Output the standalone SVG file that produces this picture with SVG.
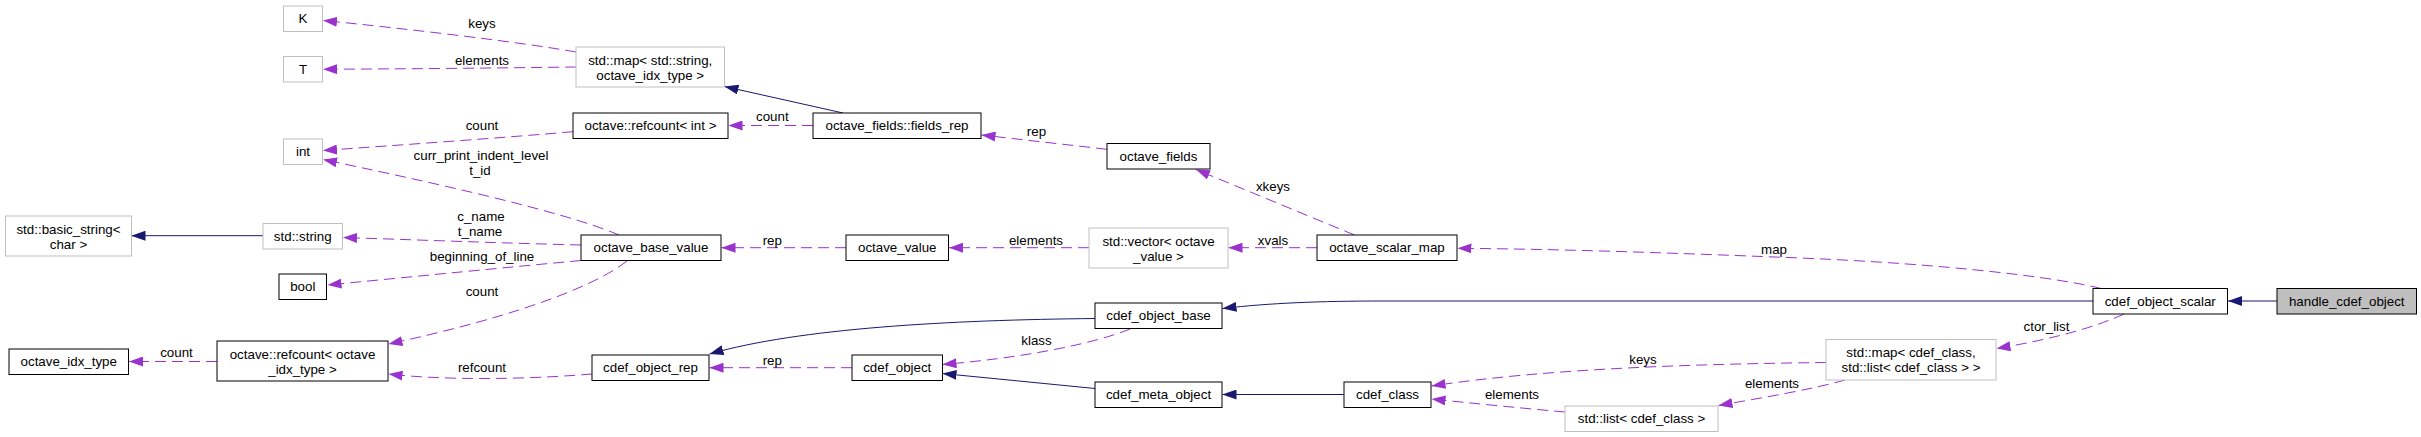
<svg xmlns="http://www.w3.org/2000/svg" width="2421" height="437" viewBox="0 0 2421 437">
<style>
text{font-family:"Liberation Sans",Arial,sans-serif;font-size:13.33px;fill:#000;text-anchor:middle}
.n rect{fill:#fff;stroke:#000;stroke-width:1}
.n.g rect{stroke:#bfbfbf}
.n.h rect{fill:#bfbfbf}
.e{fill:none;stroke:#9a32cd;stroke-width:1;stroke-dasharray:11,6;marker-end:url(#ap)}
.i{fill:none;stroke:#191970;stroke-width:1;marker-end:url(#ab)}
</style>
<defs>
<marker id="ap" markerUnits="userSpaceOnUse" markerWidth="14" markerHeight="10" refX="14" refY="5" orient="auto" viewBox="0 0 14 10"><path d="M0,0L14,5L0,10z" fill="#9a32cd"/></marker>
<marker id="ab" markerUnits="userSpaceOnUse" markerWidth="14" markerHeight="10" refX="14" refY="5" orient="auto" viewBox="0 0 14 10"><path d="M0,0L14,5L0,10z" fill="#191970"/></marker>
</defs>
<rect width="2421" height="437" fill="#fff"/>
<g id="connectors">
<path class="e" d="M576,52 C520,42 400,28 323,20.5"/>
<path class="e" d="M576,67 C500,68 400,69 323,69.2"/>
<path class="e" d="M573,131.7 C500,138 400,145 323,150.5"/>
<path class="e" d="M619,235 C560,210 420,180 323,159.5"/>
<path class="e" d="M581,245 C500,243 420,240 343,237.5"/>
<path class="e" d="M581,260.5 C500,268 420,276 327.5,285"/>
<path class="e" d="M627,261 C590,290 500,320 388.5,344"/>
<path class="e" d="M592,374 C520,380 440,380 388.5,374"/>
<path class="e" d="M217,361.5 L129,361.5"/>
<path class="i" d="M263,235.7 L131.5,235.7"/>
<path class="i" d="M843,113 L724.5,86.5"/>
<path class="e" d="M813,125.5 L728.5,125.5"/>
<path class="e" d="M1107,149.3 L981.5,135"/>
<path class="e" d="M1354.5,235 L1196,169.5"/>
<path class="e" d="M1317,247.7 L1228.5,247.7"/>
<path class="e" d="M1089,247.7 L949,247.7"/>
<path class="e" d="M846,247.7 L721.5,247.7"/>
<path class="e" d="M2101,288.5 C2060,278 1950,264 1800,258 C1650,252 1550,249 1457.5,248.3"/>
<path class="i" d="M2093,301 L1383,301 C1320,301 1270,303 1222.5,308.5"/>
<path class="i" d="M2277,301 L2228,301"/>
<path class="e" d="M2124,314 C2100,325 2060,338 1996.5,348.5"/>
<path class="e" d="M1826,362.5 C1700,364 1550,368 1431.5,386"/>
<path class="e" d="M1845,380 C1810,390 1760,398 1718.5,405.5"/>
<path class="e" d="M1565,412 C1520,408 1470,403 1431.5,399"/>
<path class="i" d="M1344,394.5 L1222.5,394.5"/>
<path class="i" d="M1095,388.5 L942.5,373.5"/>
<path class="e" d="M852,367.7 L709.5,367.7"/>
<path class="i" d="M1095,318.5 C950,320 800,328 709.5,354"/>
<path class="e" d="M1130,329 C1090,345 1020,358 942.5,364.5"/>
<text x="482" y="27.5">keys</text>
<text x="482" y="64.5">elements</text>
<text x="482" y="129.5">count</text>
<text x="481" y="160.3">curr_print_indent_level</text>
<text x="480" y="175.3">t_id</text>
<text x="481" y="221.3">c_name</text>
<text x="480" y="236.3">t_name</text>
<text x="482" y="261.3">beginning_of_line</text>
<text x="482" y="296.3">count</text>
<text x="482" y="372.3">refcount</text>
<text x="176.5" y="357.3">count</text>
<text x="772.3" y="121.3">count</text>
<text x="1036.5" y="136.3">rep</text>
<text x="1273" y="191.3">xkeys</text>
<text x="1273" y="244.6">xvals</text>
<text x="1036" y="244.6">elements</text>
<text x="772.3" y="244.6">rep</text>
<text x="1774" y="253.6">map</text>
<text x="2046.5" y="331.3">ctor_list</text>
<text x="1643" y="363.6">keys</text>
<text x="1772" y="388">elements</text>
<text x="1512" y="399">elements</text>
<text x="772.3" y="364.6">rep</text>
<text x="1036.5" y="345.3">klass</text>
</g>
<g id="n_K" class="n g"><rect x="283.5" y="6" width="39" height="25.5"/><text x="303" y="23.4">K</text></g>
<g id="n_T" class="n g"><rect x="283.5" y="56.5" width="39" height="25.5"/><text x="303" y="73.9">T</text></g>
<g id="n_int" class="n g"><rect x="283.5" y="139" width="39" height="25.5"/><text x="303" y="156.4">int</text></g>
<g id="n_basic_string" class="n g"><rect x="5.5" y="216" width="126" height="40"/><text x="68.5" y="233.5">std::basic_string&lt;</text><text x="68.5" y="248.5">char &gt;</text></g>
<g id="n_string" class="n g"><rect x="263" y="223.5" width="79.5" height="25.5"/><text x="302.75" y="240.9">std::string</text></g>
<g id="n_bool" class="n"><rect x="279" y="274" width="47.5" height="25.5"/><text x="302.75" y="291.4">bool</text></g>
<g id="n_octave_idx_type" class="n"><rect x="9" y="349" width="119.5" height="25.5"/><text x="68.75" y="366.4">octave_idx_type</text></g>
<g id="n_refcount_idx" class="n"><rect x="217" y="341" width="171" height="40"/><text x="302.5" y="358.5">octave::refcount&lt; octave</text><text x="302.5" y="373.5">_idx_type &gt;</text></g>
<g id="n_map_string" class="n g"><rect x="576" y="47" width="148.5" height="40"/><text x="650.25" y="64.5">std::map&lt; std::string,</text><text x="650.25" y="79.5">octave_idx_type &gt;</text></g>
<g id="n_refcount_int" class="n"><rect x="573" y="113" width="155" height="25.5"/><text x="650.5" y="130.4">octave::refcount&lt; int &gt;</text></g>
<g id="n_octave_base_value" class="n"><rect x="581" y="235" width="140" height="25.5"/><text x="651" y="252.4">octave_base_value</text></g>
<g id="n_cdef_object_rep" class="n"><rect x="592" y="355" width="117" height="25.5"/><text x="650.5" y="372.4">cdef_object_rep</text></g>
<g id="n_fields_rep" class="n"><rect x="813" y="113" width="168" height="25.5"/><text x="897" y="130.4">octave_fields::fields_rep</text></g>
<g id="n_octave_value" class="n"><rect x="846" y="235" width="102.5" height="25.5"/><text x="897.25" y="252.4">octave_value</text></g>
<g id="n_cdef_object" class="n"><rect x="852" y="355" width="90.5" height="25.5"/><text x="897.25" y="372.4">cdef_object</text></g>
<g id="n_octave_fields" class="n"><rect x="1107" y="143.5" width="103" height="25.5"/><text x="1158.5" y="160.9">octave_fields</text></g>
<g id="n_vector" class="n g"><rect x="1089" y="228" width="139" height="40"/><text x="1158.5" y="245.5">std::vector&lt; octave</text><text x="1158.5" y="260.5">_value &gt;</text></g>
<g id="n_cdef_object_base" class="n"><rect x="1095" y="303" width="127" height="25.5"/><text x="1158.5" y="320.4">cdef_object_base</text></g>
<g id="n_cdef_meta_object" class="n"><rect x="1095" y="382" width="127" height="25.5"/><text x="1158.5" y="399.4">cdef_meta_object</text></g>
<g id="n_octave_scalar_map" class="n"><rect x="1317" y="235" width="140" height="25.5"/><text x="1387" y="252.4">octave_scalar_map</text></g>
<g id="n_cdef_class" class="n"><rect x="1344" y="382" width="87" height="25.5"/><text x="1387.5" y="399.4">cdef_class</text></g>
<g id="n_list" class="n g"><rect x="1565" y="406" width="153" height="25.5"/><text x="1641.5" y="423.4">std::list&lt; cdef_class &gt;</text></g>
<g id="n_map_cdef" class="n g"><rect x="1826" y="339.5" width="170" height="40.5"/><text x="1911" y="357">std::map&lt; cdef_class,</text><text x="1911" y="372">std::list&lt; cdef_class &gt; &gt;</text></g>
<g id="n_cdef_object_scalar" class="n"><rect x="2093" y="288.5" width="134.5" height="25.5"/><text x="2160.25" y="305.9">cdef_object_scalar</text></g>
<g id="n_handle_cdef_object" class="n h"><rect x="2277" y="288.5" width="139.5" height="25.5"/><text x="2346.75" y="305.9">handle_cdef_object</text></g>
</svg>
